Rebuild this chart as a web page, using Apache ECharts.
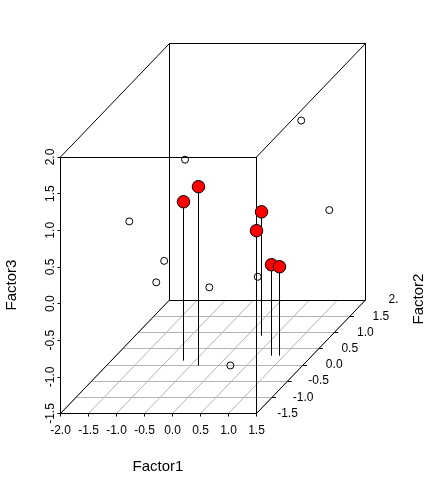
<!DOCTYPE html>
<html><head><meta charset="utf-8">
<style>html,body{margin:0;padding:0;background:#fff}#c{width:446px;height:482px}</style>
<script src="https://cdn.jsdelivr.net/npm/echarts@6/dist/echarts.min.js"></script>
</head><body><div id="c"></div>
<script>
// Data
const factor1Ticks = [-2, -1.5, -1, -0.5, 0, 0.5, 1, 1.5];
const factor2Ticks = [-1.5, -1, -0.5, 0, 0.5, 1, 1.5, 2];
const factor3Ticks = [-1.5, -1, -0.5, 0, 0.5, 1, 1.5, 2];
const factor2Labels = ['-1.5', '-1.0', '-0.5', '0.0', '0.5', '1.0', '1.5', '2.'];

const highFactor1 = [-0.710, -0.359, 0.255, 0.510, 0.775, 0.918];
const highFactor2 = [0.13, -0.02, 0.90, 0.28, 0.285, 0.285];
const highFactor3 = [0.668, 0.94, 0.19, 0.207, -0.26, -0.287];

const lowFactor1 = [0.63, 1.02, -0.61, -1.05, -0.705, -0.68, -0.01, 0.41, 0.70];
const lowFactor2 = [1.5, 1.7, 0, -1, -0.5, -0.8, -0.3, 0.5, -0.9];
const lowFactor3 = [1.17, -0.14, 1.30, 0.90, 0.14, -0.02, -0.31, -0.52, -1.11];

// Oblique projection of the 3D box on to the flat cartesian grid
const kx = 109 / 196, ky = 113.5 / 256.5;
const f1Min = -2, f1Max = 1.5, f2Min = -1.5, f2Max = 2, f3Min = -1.5, f3Max = 2;
const project = (a, b, c) => [a + kx * (b - f2Min), c + ky * (b - f2Min)];
const seg = (p, q) => ({ coords: [project(...p), project(...q)] });

const gridLines = [];
factor1Ticks.forEach(v => gridLines.push(seg([v, f2Min, f3Min], [v, f2Max, f3Min])));
factor2Ticks.forEach(v => gridLines.push(seg([f1Min, v, f3Min], [f1Max, v, f3Min])));

const boxLines = [
  seg([f1Min, f2Min, f3Max], [f1Max, f2Min, f3Max]),
  seg([f1Min, f2Min, f3Min], [f1Max, f2Min, f3Min]),
  seg([f1Min, f2Min, f3Min], [f1Min, f2Min, f3Max]),
  seg([f1Max, f2Min, f3Min], [f1Max, f2Min, f3Max]),
  seg([f1Min, f2Max, f3Max], [f1Max, f2Max, f3Max]),
  seg([f1Min, f2Max, f3Min], [f1Max, f2Max, f3Min]),
  seg([f1Min, f2Max, f3Min], [f1Min, f2Max, f3Max]),
  seg([f1Max, f2Max, f3Min], [f1Max, f2Max, f3Max]),
  seg([f1Min, f2Min, f3Max], [f1Min, f2Max, f3Max]),
  seg([f1Max, f2Min, f3Max], [f1Max, f2Max, f3Max]),
  seg([f1Min, f2Min, f3Min], [f1Min, f2Max, f3Min]),
  seg([f1Max, f2Min, f3Min], [f1Max, f2Max, f3Min])
];
const f2TickLines = factor2Ticks.slice(1, -1).map(v => seg([f1Max, v, f3Min], [f1Max + 0.07, v, f3Min]));
const stems = highFactor1.map((a, i) => seg([a, highFactor2[i], highFactor3[i]], [a, highFactor2[i], f3Min]));

const fontFamily = '"Liberation Sans", Arial, sans-serif';
const lineSeries = (data, color, z) => ({
  type: 'lines', coordinateSystem: 'cartesian2d', polyline: false, silent: true, z,
  lineStyle: { color, width: 1, opacity: 1 }, data
});
const axisTitle = (text, x, y, rotation) => ({
  type: 'text', x, y, rotation,
  style: { text, fontFamily, fontSize: 15, fill: '#000', align: 'center', verticalAlign: 'middle' }
});

const chart = echarts.init(document.getElementById('c'), null, { renderer: 'canvas' });
chart.setOption({
  animation: false,
  backgroundColor: '#fff',
  grid: { left: 60.5, top: 43.5, width: 305, height: 370, containLabel: false },
  xAxis: {
    type: 'value', min: f1Min, max: project(f1Max, f2Max, f3Max)[0], splitLine: { show: false },
    axisLine: { show: false, onZero: false },
    axisTick: { show: true, customValues: factor1Ticks, length: 3, lineStyle: { color: '#000', width: 1 } },
    axisLabel: { customValues: factor1Ticks, margin: 11, color: '#000', fontFamily, fontSize: 12, hideOverlap: false,
      showMinLabel: true, formatter: v => v.toFixed(1) }
  },
  yAxis: {
    type: 'value', min: f3Min, max: project(f1Max, f2Max, f3Max)[1], splitLine: { show: false },
    axisLine: { show: false, onZero: false },
    axisTick: { show: true, customValues: factor3Ticks, length: 3, lineStyle: { color: '#000', width: 1 } },
    axisLabel: { customValues: factor3Ticks, rotate: 90, margin: 10, color: '#000', fontFamily, fontSize: 12, hideOverlap: false,
      showMinLabel: true, verticalAlign: 'middle', align: 'center', formatter: v => v.toFixed(1) }
  },
  series: [
    lineSeries(gridLines, '#b4b4b4', 1),
    lineSeries(boxLines, '#000', 2),
    lineSeries(f2TickLines, '#000', 2),
    lineSeries(stems, '#000', 3),
    {
      type: 'scatter', silent: true, z: 4, symbol: 'circle', symbolSize: 7,
      itemStyle: { color: 'rgba(255,255,255,0)', borderColor: '#000', borderWidth: 1, opacity: 1 },
      data: lowFactor1.map((a, i) => project(a, lowFactor2[i], lowFactor3[i]))
    },
    {
      type: 'scatter', silent: true, z: 5, symbol: 'circle', symbolSize: 12.5,
      itemStyle: { color: '#ff0000', borderColor: '#000', borderWidth: 1, opacity: 1 },
      data: highFactor1.map((a, i) => project(a, highFactor2[i], highFactor3[i]))
    },
    {
      type: 'scatter', silent: true, z: 6, symbolSize: 0,
      itemStyle: { opacity: 1 },
      data: factor2Ticks.map((v, i) => ({
        value: project(f1Max, v, f3Min),
        label: {
          show: true, position: 'inside', formatter: factor2Labels[i], color: '#000', opacity: 1, fontFamily, fontSize: 12,
          offset: [factor2Labels[i].length === 2 ? 28 : 31, 0], align: 'center', verticalAlign: 'middle'
        }
      }))
    }
  ],
  graphic: [
    axisTitle('Factor1', 158, 467, 0),
    axisTitle('Factor3', 12, 285, Math.PI / 2),
    axisTitle('Factor2', 419, 299, Math.PI / 2)
  ]
});
</script></body></html>
